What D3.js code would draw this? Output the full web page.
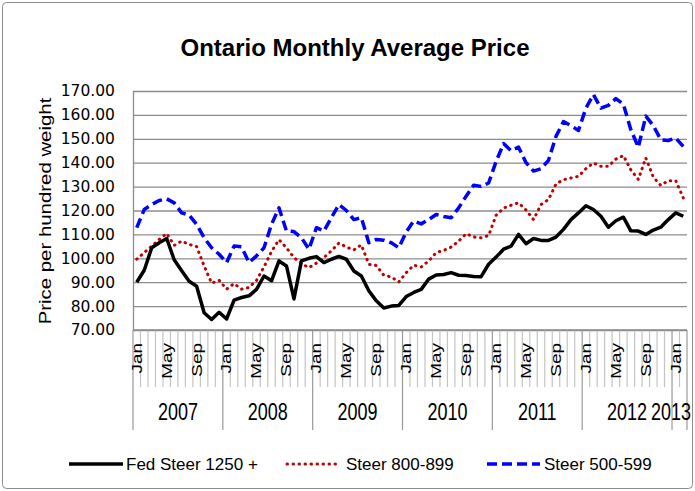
<!DOCTYPE html>
<html>
<head>
<meta charset="utf-8">
<script src="https://cdn.jsdelivr.net/npm/d3@7"></script>
<style>
body { margin: 0; background: #fff; }
text { font-family: "Liberation Sans", Arial, sans-serif; fill: #000; }
</style>
</head>
<body>
<script>
// categories
var years = ["2007", "2008", "2009", "2010", "2011", "2012", "2013"];
var monthNames = ["Jan", "Feb", "Mar", "Apr", "May", "Jun", "Jul", "Aug", "Sep", "Oct", "Nov", "Dec"];
var shownMonths = ["Jan", "May", "Sep"];
var yTicks = [70, 80, 90, 100, 110, 120, 130, 140, 150, 160, 170];
var seriesNames = ["Fed Steer 1250 +", "Steer 800-899", "Steer 500-599"];

// monthly prices, Jan 2007 - Feb 2013
var fedSteer = [90, 95, 104.4, 106.5, 108.3, 99.4, 94.8, 90.4, 88.3, 77.2, 74.4, 77.4, 74.6,
  82.5, 83.6, 84.3, 87, 92.6, 90.6, 98.9, 96.8, 83, 98.9, 100,
  100.7, 98.2, 99.6, 100.8, 99.6, 94.7, 92.6, 86.4, 82.2, 79.2, 80, 80.3,
  84, 85.7, 87, 91.3, 93, 93.2, 94, 92.9, 92.8, 92.4, 92.3, 97.5,
  100.5, 103.8, 105.1, 110, 106.1, 108.3, 107.5, 107.5, 108.9, 112.1, 116.2, 119,
  122, 120.4, 117.6, 113, 115.7, 117.2, 111.5, 111.4, 110, 111.8, 113, 116.2,
  119, 117.6];
var steer800 = [99.6, 102.4, 105.1, 107.9, 110.4, 105.4, 107.2, 105.8, 104.9, 96.8, 89.6, 90.8, 87.1,
  89.4, 87.1, 87.8, 90.8, 96.4, 102.8, 107.8, 104.4, 100.3, 97.8, 96.1,
  98, 100.3, 103.1, 106.4, 104.7, 103.5, 105.6, 97.5, 97, 92.9, 92.2, 90.1,
  94, 97.1, 96.4, 98.9, 102.4, 103.3, 104.7, 107.2, 110.3, 108.9, 108.6, 109.5,
  118, 121, 122.2, 123.2, 120.2, 116.2, 122.5, 124.6, 131.1, 132.9, 133.6, 134.3,
  137.5, 139.9, 138.5, 138.5, 141.5, 143, 137, 133, 142, 134, 130.5, 132.5,
  132.5, 125.3];
var steer500 = [112.8, 120.4, 122.5, 124.2, 124.9, 123.2, 119, 118.1, 114.2, 108.6, 104.4, 101.7, 98.2,
  105.1, 104.8, 98.2, 101, 104.4, 114.2, 121.1, 111.4, 111.2, 108.6, 103.8,
  112.8, 111.4, 117, 122.5, 120, 116.2, 117, 106.5, 107.9, 107.6, 106.5, 104.4,
  111, 115.6, 114.4, 116.2, 118.3, 117.5, 117, 121.1, 126, 130.6, 130.1, 131.5,
  140.5, 148, 145, 146.5, 140, 136.5, 137.5, 141, 151, 157.2, 155.5, 153.5,
  162.8, 168.5, 162.8, 164, 166.8, 164.5, 153.8, 146.5, 159.5, 155.5, 149.6, 149.3,
  150.3, 146.8];

var months = [];
years.forEach(function(yr) {
  monthNames.forEach(function(m) { months.push(yr + " " + m); });
});
months = months.slice(0, fedSteer.length);

var width = 695, height = 491;
var margin = {top: 91, right: 8, bottom: 161, left: 133};

var svg = d3.select("body").append("svg")
    .attr("width", width)
    .attr("height", height);

// chart border
svg.append("rect")
    .attr("x", 2.5).attr("y", 2.5)
    .attr("width", width - 5).attr("height", height - 5)
    .attr("rx", 4)
    .attr("fill", "#fff")
    .attr("stroke", "#8c8c8c");

var x = d3.scaleBand()
    .domain(months)
    .range([margin.left, width - margin.right]);

var y = d3.scaleLinear()
    .domain([70, 170])
    .range([height - margin.bottom, margin.top]);

var bw = x.bandwidth();
var x0 = margin.left, x1 = width - margin.right, yBase = y(70);

// y axis with gridlines
var yAxis = svg.append("g")
    .attr("transform", "translate(" + x0 + ",0)")
    .call(d3.axisLeft(y)
      .tickValues(yTicks)
      .tickSize(-(x1 - x0))
      .tickSizeOuter(0)
      .tickPadding(18)
      .tickFormat(d3.format(".2f")));
yAxis.select(".domain").attr("stroke", "#8c8c8c").attr("stroke-width", 1.3);
yAxis.selectAll(".tick line").attr("stroke", "#8c8c8c").attr("stroke-width", 1.3);
yAxis.selectAll(".tick text")
    .style("font-family", "'DejaVu Sans', sans-serif")
    .style("font-size", "15.5px");

// month ticks
svg.append("g").selectAll("line")
    .data(months.concat(["end"]))
    .enter().append("line")
    .attr("x1", function(d) { return d === "end" ? x1 : x(d); })
    .attr("x2", function(d) { return d === "end" ? x1 : x(d); })
    .attr("y1", yBase)
    .attr("y2", function(d) { return (d === "end" || d.slice(5) === "Jan") ? 430 : 387; })
    .attr("stroke", function(d) { return (d === "end" || d.slice(5) === "Jan") ? "#9a9a9a" : "#c4c4c4"; })
    .attr("stroke-width", 1.2);

// x axis baseline
svg.append("line")
    .attr("x1", x0).attr("x2", x1)
    .attr("y1", yBase).attr("y2", yBase)
    .attr("stroke", "#8c8c8c").attr("stroke-width", 1.3);

// month labels
svg.append("g").selectAll("text")
    .data(months.filter(function(d) { return shownMonths.indexOf(d.slice(5)) >= 0; }))
    .enter().append("text")
    .attr("transform", function(d) {
      return "translate(" + (x(d) + bw / 2) + ",343) rotate(-90) scale(1.35,1)";
    })
    .attr("dy", "0.35em")
    .attr("text-anchor", "end")
    .style("font-size", "14px")
    .text(function(d) { return d.slice(5); });

// year labels (last one pulled in so it stays inside the frame)
svg.append("g").selectAll("text")
    .data(years)
    .enter().append("text")
    .attr("transform", function(yr) {
      var inYear = months.filter(function(d) { return d.slice(0, 4) === yr; });
      var cx = (x(inYear[0]) + x(inYear[inYear.length - 1]) + bw) / 2;
      cx = Math.min(cx, width - 24);
      return "translate(" + cx + ",420) scale(1,1.3)";
    })
    .attr("text-anchor", "middle")
    .style("font-size", "18px")
    .text(function(d) { return d; });

// series lines
var series = [
  {name: seriesNames[0], values: fedSteer, color: "#000000", width: 3.5, dash: null, cap: "butt"},
  {name: seriesNames[1], values: steer800, color: "#c00000", width: 3, dash: "0.5,5.5", cap: "round"},
  {name: seriesNames[2], values: steer500, color: "#0000ff", width: 3.5, dash: "10,5", cap: "butt"}
];

var line = d3.line()
    .x(function(d, i) { return x(months[i]) + bw / 2; })
    .y(function(d) { return y(d); });

svg.append("g").selectAll("path")
    .data(series.slice().reverse())
    .enter().append("path")
    .attr("d", function(s) { return line(s.values); })
    .attr("fill", "none")
    .attr("stroke", function(s) { return s.color; })
    .attr("stroke-width", function(s) { return s.width; })
    .attr("stroke-dasharray", function(s) { return s.dash; })
    .attr("stroke-linecap", function(s) { return s.cap; })
    .attr("stroke-linejoin", "round");

// title
svg.append("text")
    .attr("x", 355).attr("y", 56)
    .attr("text-anchor", "middle")
    .style("font-size", "24px")
    .style("font-weight", "bold")
    .text("Ontario Monthly Average Price");

// y axis title
svg.append("text")
    .attr("transform", "translate(51,211) rotate(-90) scale(1.2,1)")
    .attr("text-anchor", "middle")
    .style("font-size", "17px")
    .text("Price per hundred weight");

// legend
var legendPos = [{lx: 69, len: 54, tx: 126}, {lx: 287, len: 50, tx: 346}, {lx: 487, len: 53, tx: 544}];
var legend = svg.append("g").selectAll("g")
    .data(series)
    .enter().append("g");
legend.append("line")
    .attr("x1", function(s, i) { return legendPos[i].lx; })
    .attr("x2", function(s, i) { return legendPos[i].lx + legendPos[i].len; })
    .attr("y1", 464).attr("y2", 464)
    .attr("stroke", function(s) { return s.color; })
    .attr("stroke-width", function(s) { return s.width; })
    .attr("stroke-dasharray", function(s) { return s.dash; })
    .attr("stroke-linecap", function(s) { return s.cap; });
legend.append("text")
    .attr("x", function(s, i) { return legendPos[i].tx; })
    .attr("y", 470)
    .style("font-size", "17px")
    .text(function(s) { return s.name; });
</script>
</body>
</html>
